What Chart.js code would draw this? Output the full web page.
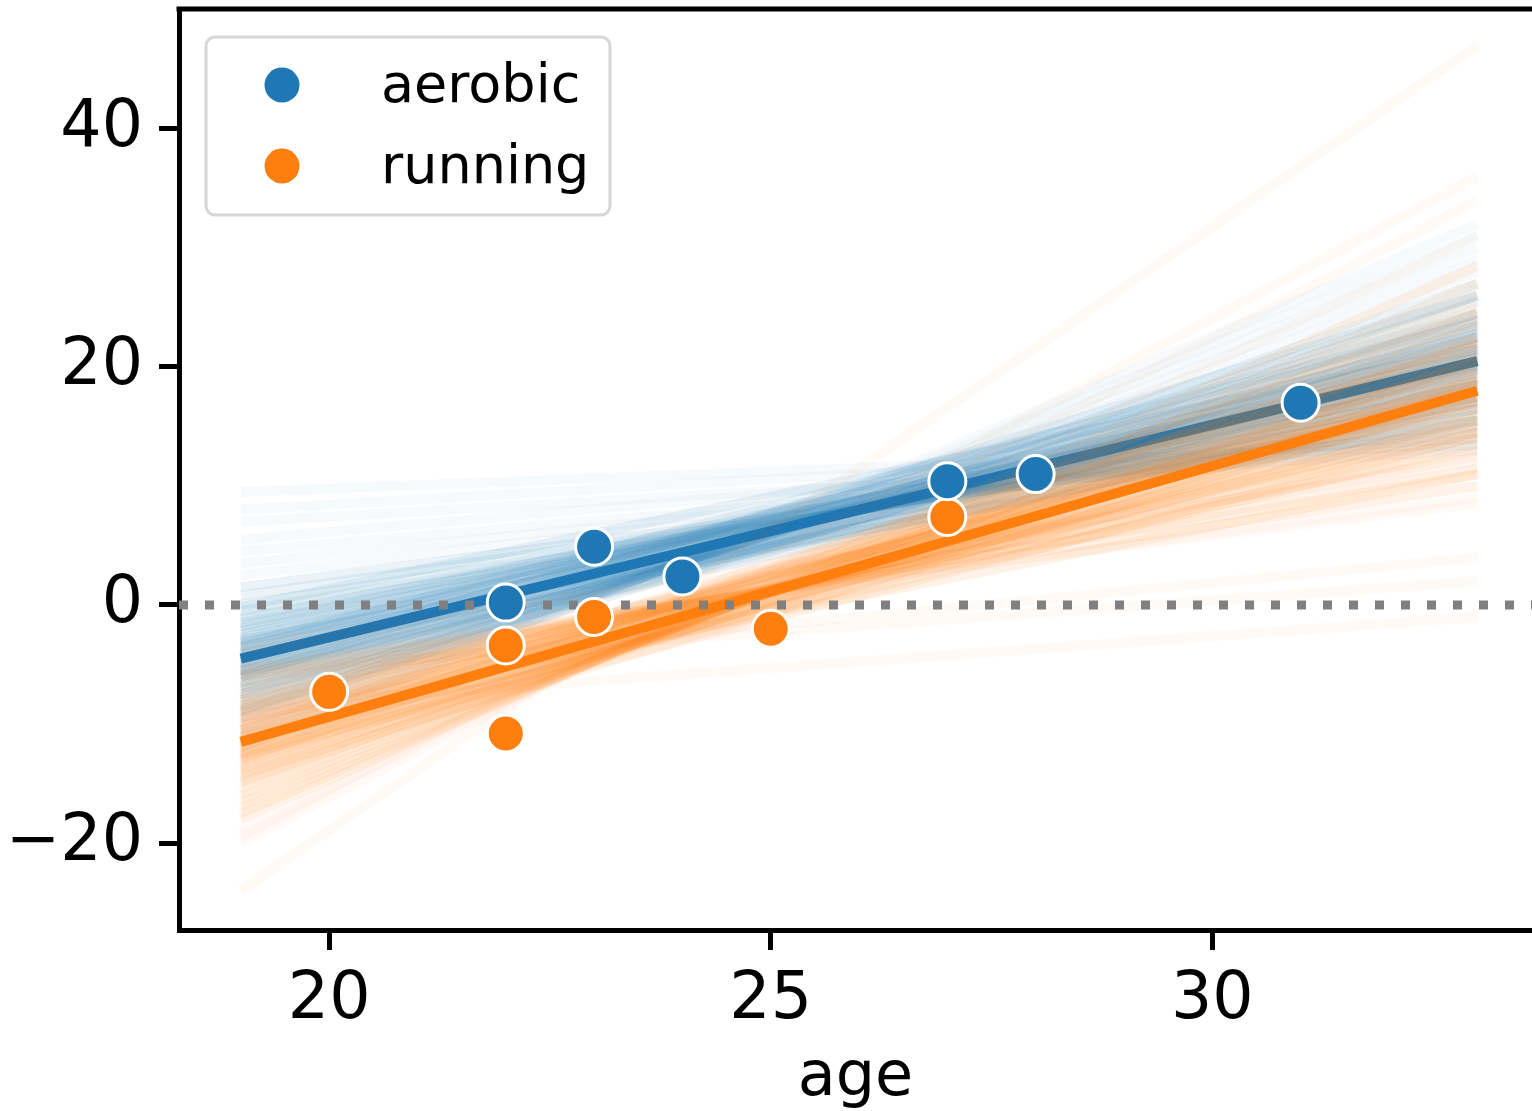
<!DOCTYPE html>
<html>
<head>
<meta charset="utf-8">
<script src="https://cdn.jsdelivr.net/npm/chart.js@4/dist/chart.umd.min.js"></script>
<style>
  html, body { margin: 0; padding: 0; background: #fff; overflow: hidden; }
  canvas { display: block; }
</style>
</head>
<body>
<canvas id="chart" width="1532" height="1111"></canvas>
<script>
// observed points
const aerobicAge = [22, 23, 24, 27, 28, 31];
const aerobicVal = [0.2, 4.9, 2.4, 10.4, 11.0, 17.0];
const runningAge = [20, 22, 22, 23, 25, 27];
const runningVal = [-7.3, -3.4, -10.8, -1.0, -2.0, 7.4];

// fitted lines, value at age 19 and at age 33
const lineAges = [19, 33];
const aerobicFit = [-4.5, 20.5];
const runningFit = [-11.5, 18.0];

// posterior sample lines (value at 19, value at 33)
// core of each band
const aerobicSampStart = [-4.5, -4.0, -5.0, -3.5, -5.5, -4.2, -4.8, -3.0, -6.0, -2.5, -6.5, -3.8, -5.2, -2.0, -7.0, -4.6, -4.4, -1.5, -7.5, -3.2, -5.8, -1.0, -8.0, -2.8, -6.2, -0.5, -8.5, -3.6, -5.4, 0.0, -9.0, -2.2, -6.8, 0.8, -9.5, -4.9, -4.1, 1.5, -1.8, -7.2, -3.4, -5.6, -1.2, -7.8, -6.0, -3.0, -8.8, -0.2];
const aerobicSampEnd = [20.4, 20.0, 21.0, 19.5, 21.5, 21.8, 19.2, 19.0, 22.0, 18.5, 22.5, 18.2, 22.8, 18.0, 23.0, 23.5, 17.5, 17.5, 24.0, 21.0, 19.8, 17.0, 24.5, 20.2, 20.8, 16.5, 25.5, 22.5, 18.5, 16.0, 26.0, 19.8, 21.2, 15.5, 27.0, 24.5, 16.5, 15.0, 20.5, 20.2, 23.8, 17.2, 18.8, 22.2, 26.0, 15.5, 23.2, 21.5];
const runningSampStart = [-11.5, -11.0, -12.0, -10.5, -12.5, -11.2, -11.8, -10.0, -13.0, -9.5, -13.5, -10.8, -12.2, -9.0, -14.0, -11.6, -11.4, -8.5, -14.5, -10.2, -12.8, -8.0, -15.0, -9.8, -13.2, -7.5, -15.5, -10.6, -12.4, -7.0, -16.0, -9.2, -13.8, -6.5, -16.5, -11.9, -11.1, -6.0, -17.0, -8.8, -14.2, -5.5, -17.5, -10.4, -12.6, -18.0, -8.2, -14.8, -13.0, -9.5];
const runningSampEnd = [18.0, 17.5, 18.5, 17.0, 19.0, 19.5, 16.5, 16.0, 19.8, 15.5, 20.5, 15.2, 20.8, 15.0, 21.0, 21.5, 14.5, 14.5, 22.0, 18.8, 17.2, 14.0, 22.5, 18.2, 18.0, 13.0, 23.5, 20.0, 15.8, 12.5, 24.0, 17.8, 19.0, 11.5, 25.0, 22.5, 13.5, 11.0, 26.0, 18.5, 17.5, 10.0, 27.0, 21.8, 14.2, 28.5, 16.8, 20.5, 24.5, 11.0];
// faint outer samples
const aerobicTailStart = [2.5, 3.5, 4.5, 5.5, 7.0, 8.0, 9.5, -10.0, -10.5, -11.0, -11.5, -12.0];
const aerobicTailEnd = [14.5, 14.0, 13.5, 14.5, 13.0, 14.0, 13.5, 28.0, 29.0, 30.0, 31.0, 32.0];
const runningTailStart = [-19.0, -20.0, -3.5, -19.5, -24.0, -6.0, -5.5, -8.5, -4.0, -5.0];
const runningTailEnd = [31.0, 34.0, 12.0, 36.0, 47.0, 4.0, 2.0, -1.0, 8.5, 9.0];

const xTicks = [20, 25, 30];
const yTicks = [-20, 0, 20, 40];
const xMin = 18.3, xMax = 33.62;
const yMin = -27.31, yMax = 50.08;

const BLUE = '#1f77b4';
const ORANGE = '#ff7f0e';
const FONT = 'DejaVu Sans';

function pts(xs, ys) {
  return xs.map((x, i) => ({ x: x, y: ys[i] }));
}

function sampleSets(starts, ends, rgb, alpha, order) {
  return starts.map((s, i) => ({
    data: pts(lineAges, [s, ends[i]]),
    showLine: true,
    borderColor: `rgba(${rgb},${alpha})`,
    borderWidth: 10,
    borderCapStyle: 'butt',
    pointRadius: 0,
    order: order
  }));
}

const datasets = [
  {
    label: 'aerobic',
    data: pts(aerobicAge, aerobicVal),
    backgroundColor: BLUE,
    borderColor: '#fff',
    borderWidth: 3,
    pointRadius: 18.5,
    order: 0
  },
  {
    label: 'running',
    data: pts(runningAge, runningVal),
    backgroundColor: ORANGE,
    borderColor: '#fff',
    borderWidth: 3,
    pointRadius: 18.5,
    order: 0
  },
  {
    data: [{ x: xMin, y: 0 }, { x: xMax, y: 0 }],
    showLine: true,
    borderColor: '#808080',
    borderWidth: 9,
    borderDash: [9, 17],
    borderCapStyle: 'butt',
    pointRadius: 0,
    order: 1
  },
  {
    data: pts(lineAges, runningFit),
    showLine: true,
    borderColor: ORANGE,
    borderWidth: 10,
    borderCapStyle: 'butt',
    pointRadius: 0,
    order: 2
  },
  ...sampleSets(runningSampStart, runningSampEnd, '255,127,14', 0.09, 3),
  ...sampleSets(runningTailStart, runningTailEnd, '255,127,14', 0.035, 3),
  {
    data: pts(lineAges, aerobicFit),
    showLine: true,
    borderColor: BLUE,
    borderWidth: 10,
    borderCapStyle: 'butt',
    pointRadius: 0,
    order: 4
  },
  ...sampleSets(aerobicSampStart, aerobicSampEnd, '31,119,180', 0.09, 5),
  ...sampleSets(aerobicTailStart, aerobicTailEnd, '31,119,180', 0.035, 5)
];

// legend box inside the plot, and the top spine
const extras = {
  id: 'extras',
  afterDraw(chart) {
    const ctx = chart.ctx;
    const a = chart.chartArea;
    ctx.save();
    ctx.strokeStyle = '#000';
    ctx.lineWidth = 5;
    ctx.beginPath();
    ctx.moveTo(a.left - 2.5, a.top);
    ctx.lineTo(a.right, a.top);
    ctx.stroke();

    ctx.fillStyle = 'rgba(255,255,255,0.8)';
    ctx.strokeStyle = '#d6d6d6';
    ctx.lineWidth = 3;
    ctx.beginPath();
    ctx.roundRect(206, 37, 404, 178, 9);
    ctx.fill();
    ctx.stroke();

    const items = [['aerobic', BLUE, 85, 102], ['running', ORANGE, 166, 183]];
    ctx.font = `54px "${FONT}"`;
    ctx.textBaseline = 'alphabetic';
    ctx.textAlign = 'left';
    items.forEach(([txt, col, cy, by]) => {
      ctx.fillStyle = col;
      ctx.beginPath();
      ctx.arc(282, cy, 17.5, 0, Math.PI * 2);
      ctx.fill();
      ctx.fillStyle = '#000';
      ctx.fillText(txt, 381, by);
    });
    ctx.restore();
  }
};

function noPad(s) {
  s.paddingTop = 0;
  s.paddingBottom = 0;
  s.paddingLeft = 0;
  s.paddingRight = 0;
}

new Chart(document.getElementById('chart'), {
  type: 'scatter',
  data: { datasets },
  options: {
    responsive: false,
    animation: false,
    layout: { autoPadding: false, padding: { top: 9, right: 0, left: 0, bottom: 0 } },
    plugins: { legend: { display: false }, tooltip: { enabled: false } },
    scales: {
      x: {
        type: 'linear',
        min: xMin,
        max: xMax,
        afterFit: s => { s.height = 181; noPad(s); },
        afterBuildTicks: s => { s.ticks = xTicks.map(v => ({ value: v })); },
        border: { display: true, color: '#000', width: 5 },
        grid: { drawOnChartArea: false, tickLength: 20, tickWidth: 5, tickColor: '#000' },
        ticks: { color: '#000', padding: 12, font: { family: FONT, size: 65 }, maxRotation: 0 },
        title: { display: true, text: 'age', color: '#000', font: { family: FONT, size: 62, lineHeight: 1.05 }, padding: { top: 0, bottom: 0 } }
      },
      y: {
        type: 'linear',
        min: yMin,
        max: yMax,
        afterFit: s => { s.width = 179; noPad(s); },
        afterBuildTicks: s => { s.ticks = yTicks.map(v => ({ value: v })); },
        border: { display: true, color: '#000', width: 5 },
        grid: { drawOnChartArea: false, tickLength: 20, tickWidth: 5, tickColor: '#000' },
        ticks: {
          color: '#000',
          padding: 16,
          font: { family: FONT, size: 65 },
          callback: v => v < 0 ? '\u2212' + Math.abs(v) : String(v)
        }
      }
    }
  },
  plugins: [extras]
});
</script>
</body>
</html>
